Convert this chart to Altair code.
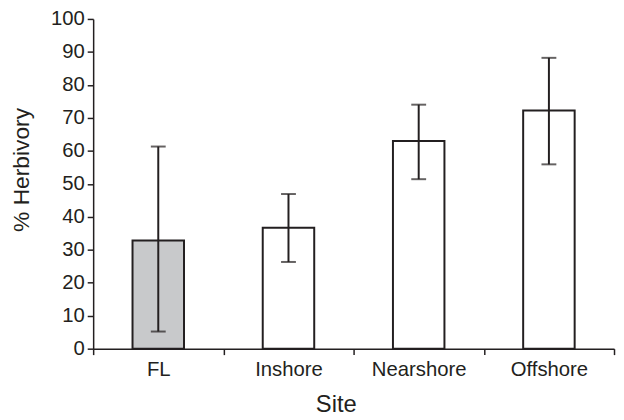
import altair as alt
import pandas as pd

sites = ["FL", "Inshore", "Nearshore", "Offshore"]
herbivory = [32.8, 36.7, 63.0, 72.2]
err_low = [5.2, 26.3, 51.4, 55.9]
err_high = [61.3, 46.9, 74.0, 88.2]
fills = ["#c8c9cb", "#ffffff", "#ffffff", "#ffffff"]

df = pd.DataFrame({"Site": sites, "Herbivory": herbivory,
                   "lo": err_low, "hi": err_high, "fill": fills})

INK = "#231f20"
FONT = "Liberation Sans"

x_axis = alt.Axis(title="Site", labelAngle=0, tickBand="extent",
                  tickSize=6, labelPadding=21, labelBaseline="alphabetic",
                  labelFontSize=20.5, titleFontSize=24,
                  titleX=245, titleY=63, titleBaseline="alphabetic",
                  titleAnchor="start", titleAlign="center")
x_scale = alt.Scale(paddingInner=0, paddingOuter=0)

y_axis = alt.Axis(title="% Herbivory", values=list(range(0, 101, 10)),
                  tickSize=6, labelPadding=3, labelFontSize=20.5,
                  labelOverlap=False,
                  titleFontSize=23, titleX=-65, titleY=152,
                  titleBaseline="alphabetic", titleAlign="center",
                  grid=False)
y_scale = alt.Scale(domain=[0, 100], nice=False)


def X():
    return alt.X("Site:N", sort=sites, scale=x_scale, axis=x_axis)


def Y(field):
    return alt.Y(field, scale=y_scale, axis=y_axis, title="% Herbivory")


bars = alt.Chart(df).mark_bar(size=52, stroke=INK, strokeWidth=2).encode(
    x=X(),
    y=Y("Herbivory:Q"),
    fill=alt.Fill("fill:N", scale=None),
)

rules = alt.Chart(df).mark_rule(color=INK, strokeWidth=2).encode(
    x=X(),
    y=Y("lo:Q"),
    y2="hi:Q",
)

caps_hi = alt.Chart(df).mark_tick(color=INK, size=15, thickness=2).encode(
    x=X(), y=Y("hi:Q"))
caps_lo = alt.Chart(df).mark_tick(color=INK, size=15, thickness=2).encode(
    x=X(), y=Y("lo:Q"))

chart = alt.layer(bars, rules, caps_hi, caps_lo).properties(
    width=526, height=333,
    autosize=alt.AutoSizeParams(type="none"),
    padding={"left": 86, "top": 9, "right": 2, "bottom": 72},
).configure_view(stroke=None).configure_axis(
    domainColor=INK, tickColor=INK, labelColor=INK, titleColor=INK,
    labelFont=FONT, titleFont=FONT, titleFontWeight="normal",
    domainWidth=1.5, tickWidth=1.5, grid=False,
)

chart.save("out.html", embed_options={"renderer": "svg", "actions": False})
